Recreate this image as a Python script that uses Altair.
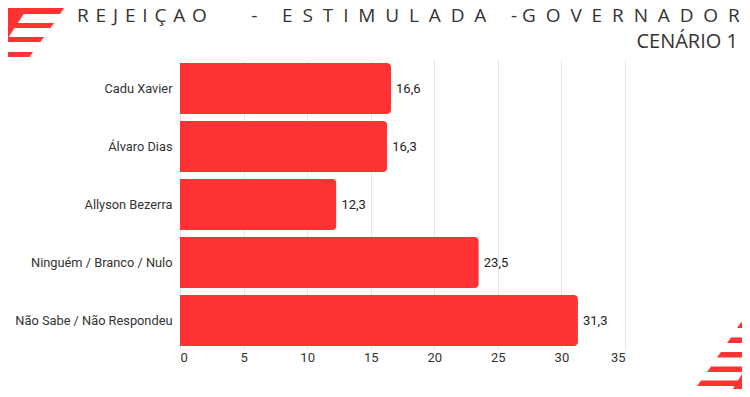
import altair as alt
import pandas as pd

categories = ["Cadu Xavier", "Álvaro Dias", "Allyson Bezerra", "Ninguém / Branco / Nulo", "Não Sabe / Não Respondeu"]
values = [16.6, 16.3, 12.3, 23.5, 31.3]
labels = ["16,6", "16,3", "12,3", "23,5", "31,3"]
x_ticks = [0, 5, 10, 15, 20, 25, 30, 35]

NB = "\u00a0"
HS = "\u200a"
title_text = ((NB + HS).join("REJEIÇÃO") + NB * 9 + "-" + NB * 5 + (NB * 2).join("ESTIMULADA")
              + NB * 5 + "-" + NB + (NB * 2).join("GOVERNADOR"))
subtitle_text = "CENÁRIO 1"

RED = "#FF3333"
TXT = "#333333"

df = pd.DataFrame({"cat": categories, "val": values, "lab": labels})

# decorative stripes (page-pixel path, drawn as a custom symbol)
deco_path = (
    "M0,0 L33,0 L0,50 Z "
    "M0,-2 L70,-2 L67.5,1.5 L0,1.5 Z "
    "M0,8 L64,8 L60,14 L0,14 Z "
    "M0,23 L54,23 L50.5,28 L0,28 Z "
    "M0,37 L44,37 L40.5,42 L0,42 Z "
    "M0,52 L33,52 L29.5,57 L0,57 Z "
    "M741,322.5 L760,322.5 L760,328 L737,328 Z "
    "M731,337.5 L760,337.5 L760,343 L727,343 Z "
    "M721,352 L760,352 L760,357.5 L717,357.5 Z "
    "M711,366.5 L760,366.5 L760,372 L707,372 Z "
    "M701,380.5 L760,380.5 L760,386 L697,386 Z "
    "M691,394.5 L760,394.5 L760,400 L687,400 Z "
    "M760,345 L760,400 L726,400 Z"
)

xscale = alt.Scale(domain=[0, 35], nice=False)
yscale = alt.Scale(paddingInner=0.12, paddingOuter=0.06)

base = alt.Chart(df)

bars = base.mark_bar(color=RED, cornerRadiusEnd=4).encode(
    x=alt.X("val:Q", scale=xscale,
            axis=alt.Axis(values=x_ticks, title=None, domain=False, ticks=False,
                          grid=True, gridColor="#e6e6e6", labelFontSize=13,
                          labelColor=TXT, labelFont="Roboto", labelPadding=2)),
    y=alt.Y("cat:N", sort=categories, scale=yscale,
            axis=alt.Axis(title=None, domain=False, ticks=False, labelFontSize=12.8,
                          labelColor=TXT, labelFont="Roboto", labelPadding=8, labelLimit=300)),
)

text = base.mark_text(align="left", baseline="middle", dx=5, fontSize=13,
                      font="Roboto", color="#222222").encode(
    x=alt.X("val:Q", scale=xscale),
    y=alt.Y("cat:N", sort=categories, scale=yscale),
    text="lab:N",
)

one = alt.Chart(pd.DataFrame({"d": [0]}))

deco = one.mark_point(shape=deco_path, size=4, filled=True, fill=RED, opacity=1,
                      strokeWidth=0).encode(x=alt.value(-180), y=alt.value(-59.5))

title = one.mark_text(align="left", baseline="alphabetic", fontSize=19, font="Open Sans",
                      fontWeight=400, color=TXT).encode(
    x=alt.value(-103), y=alt.value(-38), text=alt.value(title_text))

subtitle = one.mark_text(align="right", baseline="alphabetic", fontSize=20, font="Open Sans",
                         fontWeight=400, color=TXT).encode(
    x=alt.value(558), y=alt.value(-11.5), text=alt.value(subtitle_text))

chart = alt.layer(deco, bars, text, title, subtitle).properties(
    width=445, height=290,
    autosize=alt.AutoSizeParams(type="none"),
    padding={"left": 172, "top": 51.5, "right": 117, "bottom": 39.5},
    background="white",
).configure_view(stroke=None)

chart.save("out.html", embed_options={"renderer": "svg", "actions": False})
